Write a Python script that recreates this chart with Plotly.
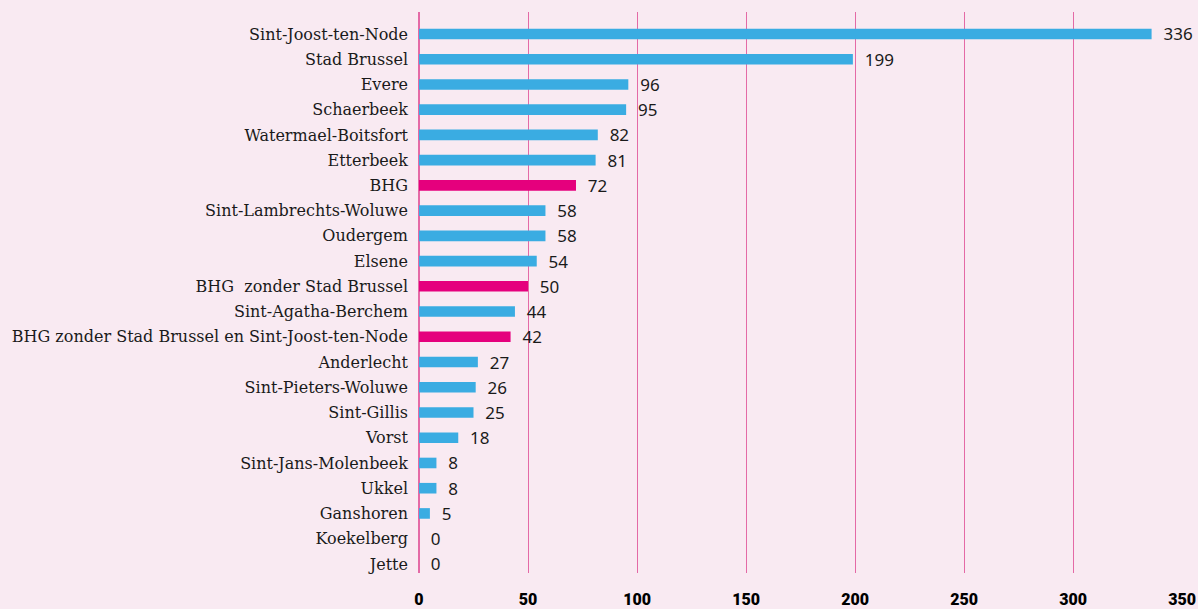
import plotly.graph_objects as go

categories = [
    "Sint-Joost-ten-Node", "Stad Brussel", "Evere", "Schaerbeek",
    "Watermael-Boitsfort", "Etterbeek", "BHG", "Sint-Lambrechts-Woluwe",
    "Oudergem", "Elsene", "BHG  zonder Stad Brussel", "Sint-Agatha-Berchem",
    "BHG zonder Stad Brussel en Sint-Joost-ten-Node", "Anderlecht",
    "Sint-Pieters-Woluwe", "Sint-Gillis", "Vorst", "Sint-Jans-Molenbeek",
    "Ukkel", "Ganshoren", "Koekelberg", "Jette",
]
values = [336, 199, 96, 95, 82, 81, 72, 58, 58, 54, 50, 44, 42, 27, 26, 25, 18, 8, 8, 5, 0, 0]
highlight = ["BHG", "BHG  zonder Stad Brussel", "BHG zonder Stad Brussel en Sint-Joost-ten-Node"]
x_ticks = [0, 50, 100, 150, 200, 250, 300, 350]

BLUE = "#3aace2"
PINK = "#e5007d"
BG = "#f9eaf2"
GRID = "#e46aa6"

colors = [PINK if c in highlight else BLUE for c in categories]

fig = go.Figure()
fig.add_trace(go.Bar(
    y=categories, x=values, orientation="h",
    marker=dict(color=colors, line=dict(width=0)),
    width=0.42,
    text=["  " + str(v) for v in values],
    textposition="outside",
    constraintext="none",
    cliponaxis=False,
    textfont=dict(family="Noto Sans", size=17, color="#1a1a1a"),
    hoverinfo="skip",
))

fig.update_layout(
    width=1198, height=609,
    paper_bgcolor=BG, plot_bgcolor=BG,
    margin=dict(l=419, r=15, t=12, b=36, autoexpand=False),
    showlegend=False,
    xaxis=dict(
        range=[0, 350.4], tickvals=x_ticks, ticktext=[str(t) for t in x_ticks],
        showgrid=True, gridcolor=GRID, gridwidth=1.3,
        zeroline=True, zerolinecolor=GRID, zerolinewidth=1.6,
        showline=False, ticks="",
        tickfont=dict(family="Roboto", size=16, color="#000000", weight=900),
        ticklabelstandoff=15,
        automargin=False,
        fixedrange=True,
    ),
    yaxis=dict(
        categoryorder="array", categoryarray=categories,
        range=[21.36, -0.87],
        showgrid=False, zeroline=False, showline=False, ticks="",
        tickfont=dict(family="DejaVu Serif", size=16, color="#1a1a1a"),
        ticklabelstandoff=10,
        automargin=False,
        fixedrange=True,
    ),
)

fig.write_html(
    "out.html",
    config={"displayModeBar": False},
    post_script="document.body.style.margin='0';document.body.style.background='#f9eaf2';",
)
